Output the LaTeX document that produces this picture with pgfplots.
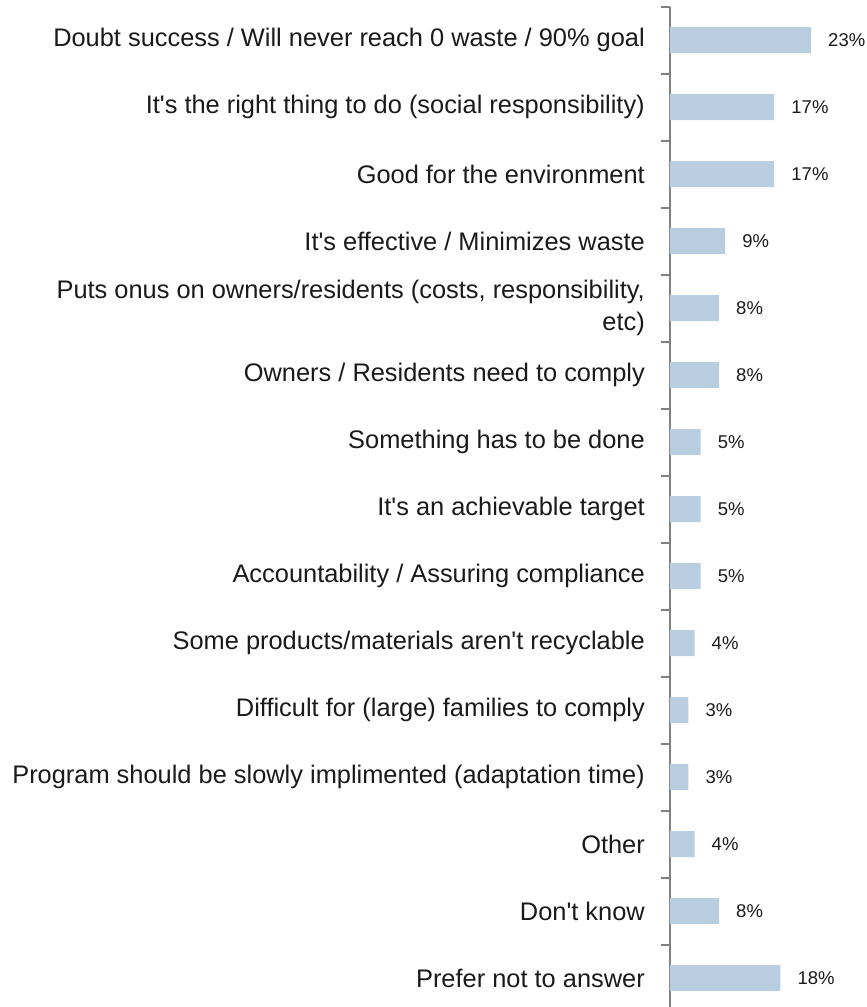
\documentclass[border=0pt]{standalone}
\usepackage{fontspec}
\setmainfont{Liberation Sans}
\usepackage{pgfplots}
\pgfplotsset{compat=1.18}
\definecolor{barc}{RGB}{185,205,224}
\definecolor{axc}{RGB}{128,128,128}
\definecolor{txt}{RGB}{26,26,26}
\newcommand{\q}{\textquotesingle}
\begin{document}
\begin{tikzpicture}[x=1pt,y=1pt]
\begin{axis}[
  at={(670pt,-6.5pt)}, anchor=north west,
  scale only axis,
  width=196.2pt, height=1005pt,
  xbar, bar width=26pt, bar shift=0pt,
  xmin=0, xmax=32,
  ymin=-0.5, ymax=14.5,
  y dir=reverse,
  axis x line=none,
  axis y line*=left,
  y axis line style={draw=axc, line width=2pt, -},
  ytick={0,...,14},
  yticklabels={
    {Doubt success / Will never reach 0 waste / 90\% goal},
    {It\q s the right thing to do (social responsibility)},
    {Good for the environment},
    {It\q s effective / Minimizes waste},
    {Puts onus on owners/residents (costs, responsibility,\\etc)},
    {Owners / Residents need to comply},
    {Something has to be done},
    {It\q s an achievable target},
    {Accountability / Assuring compliance},
    {Some products/materials aren\q t recyclable},
    {Difficult for (large) families to comply},
    {Program should be slowly implimented (adaptation time)},
    {Other},
    {Don\q t know},
    {Prefer not to answer}},
  minor ytick={-0.5,0.5,...,14.5},
  major tick length=0pt,
  minor tick length=9pt,
  tick align=outside,
  ytick pos=left,
  tick style={draw=axc, line width=2pt},
  yticklabel style={font=\fontsize{25.4}{32}\selectfont, text=txt, align=right, inner sep=0pt, xshift=-25pt},
  clip=false,
  point meta=x,
  /pgf/number format/assume math mode=true,
  nodes near coords={\pgfmathprintnumber{\pgfplotspointmeta}\%},
  nodes near coords style={anchor=west, inner sep=0pt, xshift=17pt, font=\fontsize{18.5}{21}\selectfont, text=txt},
]
\addplot[fill=barc, draw=none] coordinates {
  (23,0) (17,1) (17,2) (9,3) (8,4) (8,5) (5,6) (5,7) (5,8) (4,9) (3,10) (3,11) (4,12) (8,13) (18,14)
};
\end{axis}
\pgfresetboundingbox
\useasboundingbox (0,0) rectangle (867pt,-1007pt);
\end{tikzpicture}
\end{document}
